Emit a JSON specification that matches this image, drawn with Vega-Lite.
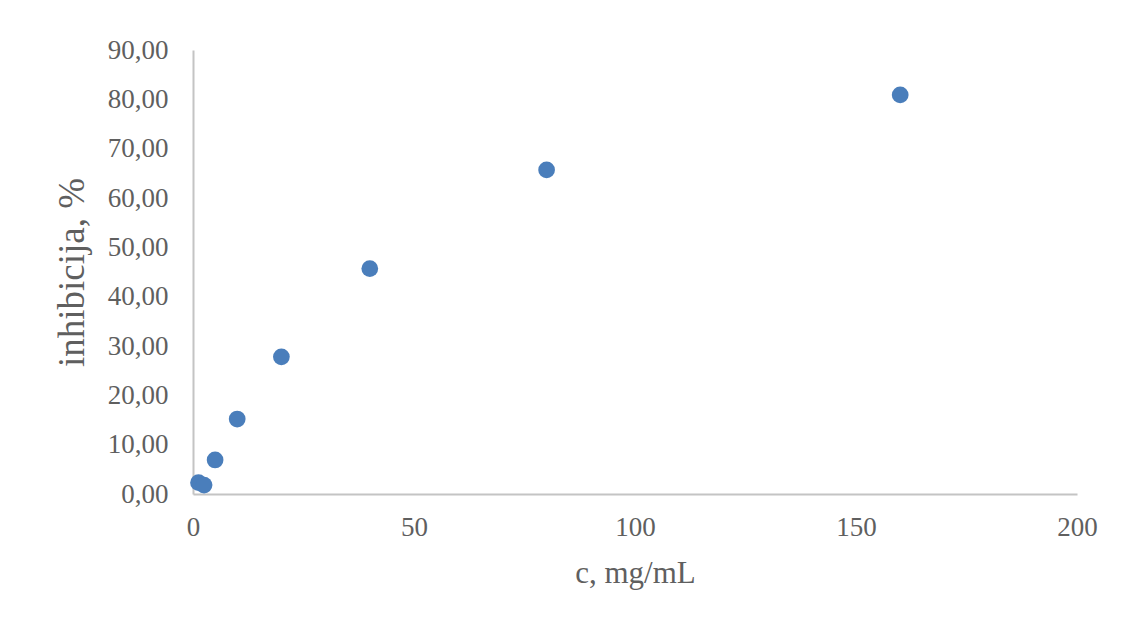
{
  "$schema": "https://vega.github.io/schema/vega-lite/v6.json",
  "autosize": {"type": "none"},
  "width": 884,
  "height": 444,
  "padding": {"left": 193, "top": 50, "right": 52, "bottom": 138},
  "background": "white",
  "config": {"view": {"stroke": null}},
  "data": {"values": [
    {"c": 1.25, "inh": 2.3},
    {"c": 2.5, "inh": 1.8},
    {"c": 5, "inh": 6.9},
    {"c": 10, "inh": 15.2},
    {"c": 20, "inh": 27.8},
    {"c": 40, "inh": 45.7},
    {"c": 80, "inh": 65.7},
    {"c": 160, "inh": 80.9}
  ]},
  "mark": {"type": "circle", "size": 280, "opacity": 1, "color": "#4a7ebb"},
  "encoding": {
    "x": {"field": "c", "type": "quantitative",
      "scale": {"domain": [0, 200], "nice": false},
      "axis": {"values": [0, 50, 100, 150, 200], "grid": false, "ticks": false,
        "domainColor": "#c4c4c4", "domainWidth": 2,
        "labelFont": "Liberation Serif", "labelFontSize": 27, "labelColor": "#5f5f5f",
        "labelPadding": 20, "labelFlush": false,
        "title": "c, mg/mL", "titleFont": "Liberation Serif", "titleFontSize": 31,
        "titleFontWeight": "normal", "titleColor": "#5f5f5f", "titlePadding": 18}},
    "y": {"field": "inh", "type": "quantitative",
      "scale": {"domain": [0, 90], "nice": false},
      "axis": {"values": [0, 10, 20, 30, 40, 50, 60, 70, 80, 90], "grid": false, "ticks": false,
        "domainColor": "#c4c4c4", "domainWidth": 2,
        "labelExpr": "replace(format(datum.value, '.2f'), '.', ',')",
        "labelFont": "Liberation Serif", "labelFontSize": 27, "labelColor": "#5f5f5f",
        "labelPadding": 25, "labelFlush": false,
        "title": "inhibicija, %", "titleFont": "Liberation Serif", "titleFontSize": 37,
        "titleFontWeight": "normal", "titleColor": "#5f5f5f", "titlePadding": 16}}
  }
}
